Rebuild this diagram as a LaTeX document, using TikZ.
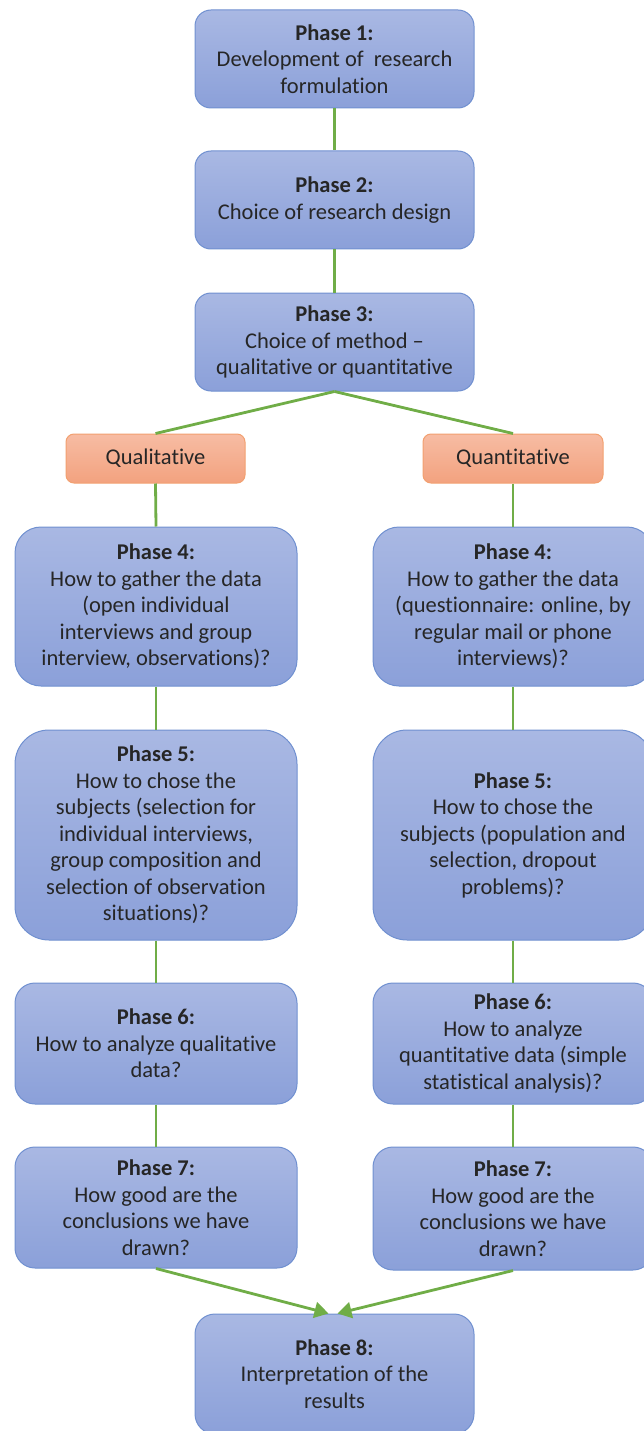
\documentclass[tikz,border=0pt]{standalone}
\usepackage{fontspec}
\setmainfont[Ligatures=CommonOff]{Carlito}
\usetikzlibrary{arrows.meta}
\definecolor{boxtop}{HTML}{A9B8E3}
\definecolor{boxbot}{HTML}{8BA0D9}
\definecolor{boxline}{HTML}{7090D0}
\definecolor{ortop}{HTML}{F7BCA3}
\definecolor{orbot}{HTML}{F3A27F}
\definecolor{orline}{HTML}{F2A070}
\definecolor{conn}{HTML}{70AD47}
\definecolor{txt}{HTML}{262626}
\tikzset{
  phasebox/.style={draw=boxline, line width=1pt, top color=boxtop, bottom color=boxbot,
    align=center, text=txt, inner sep=2pt,
    font=\fontsize{22.5}{26.5}\selectfont},
  orbox/.style={draw=orline, line width=1pt, top color=ortop, bottom color=orbot,
    align=center, text=txt, inner sep=2pt, rounded corners=8pt,
    font=\fontsize{22.5}{26.5}\selectfont},
  link/.style={draw=conn, line width=2.8pt},
  arr/.style={draw=conn, line width=2.8pt, -{Triangle[length=14pt,width=16pt]}}
}
\begin{document}
\begin{tikzpicture}[x=1pt,y=-1pt]
\useasboundingbox (0,0) rectangle (643,1431);
\node[phasebox, minimum width=279pt, minimum height=98pt, rounded corners=16pt] (p1) at (334.5,59)
  {\textbf{Phase 1:}\\Development of\ \ research\\formulation};
\node[phasebox, minimum width=279pt, minimum height=98pt, rounded corners=16pt] (p2) at (334.5,200)
  {\textbf{Phase 2:}\\Choice of research design};
\node[phasebox, minimum width=279pt, minimum height=98pt, rounded corners=16pt] (p3) at (334.5,342)
  {\textbf{Phase 3:}\\Choice of method --\\qualitative or quantitative};
\node[orbox, minimum width=179pt, minimum height=49pt] (ql) at (155.5,458.5) {Qualitative};
\node[orbox, minimum width=180pt, minimum height=49pt] (qn) at (513,458.5) {Quantitative};
\node[phasebox, minimum width=282pt, minimum height=159pt, rounded corners=26pt] (l4) at (156,606.5)
  {\textbf{Phase 4:}\\How to gather the data\\(open individual\\interviews and group\\interview, observations)?};
\node[phasebox, minimum width=280pt, minimum height=159pt, rounded corners=26pt] (r4) at (513,606.5)
  {\textbf{Phase 4:}\\How to gather the data\\(questionnaire: online, by\\regular mail or phone\\interviews)?};
\node[phasebox, minimum width=282pt, minimum height=210pt, rounded corners=34pt] (l5) at (156,835)
  {\textbf{Phase 5:}\\How to chose the\\subjects (selection for\\individual interviews,\\group composition and\\selection of observation\\situations)?};
\node[phasebox, minimum width=280pt, minimum height=210pt, rounded corners=34pt] (r5) at (513,835)
  {\textbf{Phase 5:}\\How to chose the\\subjects (population and\\selection, dropout\\problems)?};
\node[phasebox, minimum width=282pt, minimum height=121pt, rounded corners=20pt] (l6) at (156,1043.5)
  {\textbf{Phase 6:}\\How to analyze qualitative\\data?};
\node[phasebox, minimum width=280pt, minimum height=121pt, rounded corners=20pt] (r6) at (513,1043.5)
  {\textbf{Phase 6:}\\How to analyze\\quantitative data (simple\\statistical analysis)?};
\node[phasebox, minimum width=282pt, minimum height=121pt, rounded corners=20pt] (l7) at (156,1207.5)
  {\textbf{Phase 7:}\\How good are the\\conclusions we have\\drawn?};
\node[phasebox, minimum width=280pt, minimum height=123pt, rounded corners=20pt] (r7) at (513,1208.5)
  {\textbf{Phase 7:}\\How good are the\\conclusions we have\\drawn?};
\node[phasebox, minimum width=279pt, minimum height=120pt, rounded corners=20pt] (p8) at (334.5,1374)
  {\textbf{Phase 8:}\\Interpretation of the\\results};
\coordinate (p8l) at ([xshift=-6pt]p8.north);
\coordinate (p8r) at ([xshift=3pt]p8.north);
\path[link] (p1.south) -- (p2.north);
\path[link] (p2.south) -- (p3.north);
\path[link] (p3.south) -- (ql.north);
\path[link] (p3.south) -- (qn.north);
\path[link] (ql.south) -- (l4.north);
\path[link] (qn.south) -- (r4.north);
\path[link] (l4.south) -- (l5.north);
\path[link] (r4.south) -- (r5.north);
\path[link] (l5.south) -- (l6.north);
\path[link] (r5.south) -- (r6.north);
\path[link] (l6.south) -- (l7.north);
\path[link] (r6.south) -- (r7.north);
\path[arr] (l7.south) -- (p8l);
\path[arr] (r7.south) -- (p8r);
\end{tikzpicture}
\end{document}
